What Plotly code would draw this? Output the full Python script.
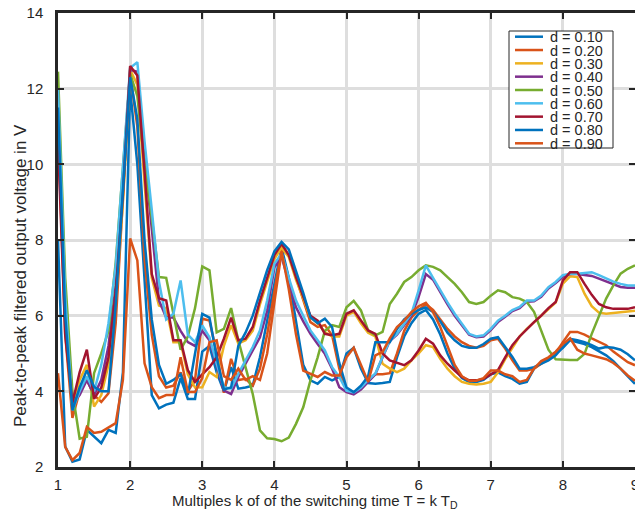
import numpy as np
import plotly.graph_objects as go

# x sampling: k = 1.0, 1.1, ..., 9.0
k_values = np.round(np.linspace(1.0, 9.0, 81), 1)

d_labels = ["d = 0.10", "d = 0.20", "d = 0.30", "d = 0.40", "d = 0.50",
            "d = 0.60", "d = 0.70", "d = 0.80", "d = 0.90"]

d010 = [8.0, 2.54, 2.14, 2.2, 2.98, 2.8, 2.63, 2.98, 2.9, 4.5,
        12.0, 10.0, 7.0, 3.9, 3.55, 3.65, 3.7, 4.35, 3.8, 3.8,
        5.05, 5.2, 4.5, 4.0, 4.64, 4.07, 4.1, 4.15, 4.9, 5.9,
        6.9, 7.8, 7.0, 5.9, 4.7, 4.29, 4.2, 4.38, 4.29, 4.38,
        5.0, 5.15, 4.6, 4.22, 4.2, 4.22, 4.25, 4.9, 5.45, 5.8,
        6.05, 6.15, 5.9, 5.5, 5.0, 4.6, 4.35, 4.25, 4.25, 4.3,
        4.45, 4.5, 4.4, 4.33, 4.2, 4.25, 4.6, 4.75, 4.85, 5.0,
        5.15, 5.35, 5.3, 5.25, 5.17, 5.05, 4.95, 4.8, 4.6, 4.42,
        4.2]
d020 = [11.0, 5.5, 3.3, 4.0, 4.3, 3.9, 3.72, 3.95, 5.8, 9.0,
        12.4, 11.0, 7.5, 5.5, 4.4, 4.1, 4.15, 4.5, 4.0, 4.3,
        5.92, 5.87, 5.0, 3.96, 4.86, 4.3, 4.33, 4.15, 4.6, 5.5,
        6.6, 7.75, 7.6, 7.0, 6.4, 5.83, 5.7, 5.75, 5.48, 4.6,
        4.0, 3.95, 4.1, 4.3, 4.45, 4.45, 4.48, 5.0, 5.6, 5.95,
        6.15, 6.3, 6.15, 5.9, 5.65, 5.45, 5.3, 5.2, 5.15, 5.2,
        5.35, 5.39, 5.13, 4.82, 4.55, 4.55, 4.6, 4.73, 4.86, 5.0,
        5.3, 5.57, 5.57, 5.5, 5.4, 5.3, 5.22, 5.05, 4.9, 4.77,
        4.69]
d030 = [11.8, 6.0, 3.6, 4.3, 4.7, 3.6, 3.9, 4.7, 6.4, 9.0,
        12.5, 12.1, 9.5, 7.0, 6.27, 6.2, 5.3, 5.3, 4.45, 4.1,
        4.11, 4.51, 4.38, 5.2, 5.75, 5.26, 5.35, 5.6, 6.3, 6.9,
        7.5, 7.8, 7.55, 6.95, 6.45, 5.96, 5.8, 5.57, 5.45, 5.45,
        6.0, 6.1, 5.8, 5.55, 5.45, 4.73, 4.6, 4.51, 4.6, 4.82,
        5.0, 5.22, 5.17, 4.86, 4.6, 4.4, 4.25, 4.2, 4.18, 4.2,
        4.25, 4.5, 4.85, 5.15, 5.45, 5.65, 5.82, 6.0, 6.18, 6.35,
        6.85, 7.04, 7.02, 6.58, 6.25, 6.08, 6.05, 6.07, 6.1, 6.12,
        6.13]
d040 = [11.9, 6.2, 3.7, 3.9, 4.3, 3.9, 4.3, 5.2, 6.8, 9.5,
        12.5, 12.45, 10.2, 8.2, 6.4, 5.95, 5.95, 5.6, 5.3, 5.2,
        5.6, 5.35, 4.7, 4.02, 3.93, 4.38, 4.73, 5.08, 5.43, 6.13,
        7.28, 7.55, 6.9, 6.22, 5.85, 5.52, 5.25, 4.99, 4.6, 4.11,
        3.98, 3.92, 4.05, 4.25, 4.45, 4.9, 5.33, 5.5, 5.75, 6.0,
        6.5, 7.1, 6.95, 6.62, 6.3, 6.0, 5.75, 5.5, 5.43, 5.45,
        5.62, 5.83, 5.97, 6.12, 6.2, 6.37, 6.38, 6.5, 6.72, 6.86,
        7.03, 7.1, 7.1, 7.08, 7.05, 6.98, 6.9, 6.82, 6.76, 6.74,
        6.74]
d050 = [12.45, 7.0, 4.0, 2.75, 2.8, 4.48, 5.0, 5.6, 7.4, 10.0,
        12.4, 11.8, 10.0, 8.6, 7.02, 7.0, 6.0, 5.1, 5.45, 6.2,
        7.3, 7.2, 5.56, 5.65, 6.2, 5.35, 4.64, 3.93, 2.97, 2.76,
        2.74, 2.68, 2.78, 3.14, 3.58, 4.29, 4.9, 5.6, 5.75, 5.7,
        6.22, 6.39, 6.14, 5.61, 5.48, 5.57, 6.31, 6.58, 6.89, 7.02,
        7.2, 7.33, 7.29, 7.2, 7.02, 6.84, 6.62, 6.36, 6.31, 6.36,
        6.53, 6.67, 6.62, 6.49, 6.45, 6.36, 6.1, 5.6, 5.1, 4.85,
        4.83, 4.83, 4.83, 4.99, 5.52, 6.0, 6.45, 6.8, 7.11, 7.24,
        7.33]
d060 = [12.0, 6.5, 3.5, 4.0, 4.4, 4.0, 4.7, 5.8, 7.3, 9.8,
        12.55, 12.7, 10.6, 8.8, 6.9, 5.9, 6.05, 6.93, 5.5, 5.3,
        5.74, 5.43, 4.73, 4.11, 4.07, 4.46, 4.82, 5.17, 5.61, 6.4,
        7.37, 7.64, 7.0, 6.4, 6.0, 5.61, 5.35, 5.08, 4.64, 4.38,
        4.02, 3.97, 4.1, 4.3, 4.47, 4.91, 5.35, 5.52, 5.78, 6.05,
        6.67, 7.33, 7.0, 6.67, 6.35, 6.05, 5.8, 5.52, 5.45, 5.48,
        5.65, 5.87, 6.0, 6.15, 6.23, 6.4, 6.4, 6.53, 6.75, 6.89,
        7.07, 7.11, 7.11, 7.12, 7.15, 7.07, 6.98, 6.9, 6.84, 6.8,
        6.8]
d070 = [10.6, 5.5, 3.7, 4.5, 5.1, 3.8, 4.1, 4.9, 6.6, 9.2,
        12.6, 12.35, 9.8, 7.1, 6.46, 6.4, 5.35, 5.35, 4.56, 4.25,
        4.45, 4.64, 4.9, 5.39, 5.95, 5.35, 5.39, 5.7, 6.4, 7.0,
        7.6, 7.9, 7.6, 7.02, 6.5, 6.0, 5.87, 5.52, 5.48, 5.52,
        6.05, 6.14, 5.87, 5.61, 5.52, 5.0, 4.82, 4.75, 4.69, 4.82,
        5.08, 5.39, 5.26, 4.95, 4.73, 4.55, 4.38, 4.29, 4.29, 4.33,
        4.45, 4.56, 4.9, 5.22, 5.45, 5.65, 5.83, 6.0, 6.2, 6.36,
        6.93, 7.15, 7.15, 6.84, 6.55, 6.31, 6.22, 6.18, 6.18, 6.18,
        6.22]
d080 = [11.5, 6.0, 3.5, 4.1, 4.56, 4.12, 4.0, 4.0, 6.3, 9.3,
        12.3, 11.2, 8.0, 5.9, 4.7, 4.2, 4.3, 4.45, 3.9, 5.0,
        6.05, 5.95, 4.9, 4.05, 4.1, 5.2, 5.55, 6.0, 6.6, 7.2,
        7.7, 7.95, 7.75, 7.2, 6.6, 5.96, 5.8, 5.92, 5.7, 4.75,
        4.1, 3.98, 4.15, 4.4, 5.3, 5.3, 5.3, 5.65, 5.9, 6.05,
        6.15, 6.22, 6.1, 5.85, 5.55, 5.35, 5.2, 5.15, 5.15, 5.25,
        5.39, 5.43, 5.17, 4.91, 4.6, 4.6, 4.64, 4.73, 4.82, 4.95,
        5.17, 5.39, 5.35, 5.3, 5.22, 5.13, 5.17, 5.15, 5.1, 4.98,
        4.82]
d090 = [4.48, 2.53, 2.18, 2.37, 3.06, 2.9, 2.93, 3.05, 3.16, 4.3,
        8.04, 7.46, 4.74, 4.11, 3.82, 3.9, 3.9, 4.9, 3.98, 3.98,
        4.35, 5.3, 5.35, 4.4, 4.3, 4.6, 4.3, 4.4, 4.3, 5.0,
        6.3, 7.7, 6.7, 5.5, 4.55, 4.47, 4.38, 4.51, 4.42, 4.42,
        4.9, 5.15, 4.7, 4.25, 4.95, 5.04, 5.4, 5.7, 5.87, 6.09,
        6.25, 6.34, 6.1, 5.7, 5.2, 4.7, 4.4, 4.28, 4.28, 4.35,
        4.55, 4.55, 4.45, 4.4, 4.25, 4.3, 4.6, 4.8, 4.9, 5.05,
        5.25, 5.4, 5.1, 5.0, 4.95, 4.9, 4.85, 4.75, 4.6, 4.42,
        4.28]

series = [d010, d020, d030, d040, d050, d060, d070, d080, d090]
colors = ["#0072BD", "#D95319", "#EDB120", "#7E2F8E", "#77AC30",
          "#4DBEEE", "#A2142F", "#0072BD", "#D95319"]

x_ticks = [1, 2, 3, 4, 5, 6, 7, 8, 9]
y_ticks = [2, 4, 6, 8, 10, 12, 14]

AX = "#262626"
FONT = "Liberation Sans, Arial, Helvetica, sans-serif"

fig = go.Figure()
for name, vals, col in zip(d_labels, series, colors):
    fig.add_trace(go.Scatter(x=k_values, y=vals, mode="lines", name=name,
                             line=dict(color=col, width=2.5),
                             showlegend=False))

# Figure fills the whole window (page body margin removed in post_script).
W, H = 635, 524
L, R, T, B = 58, 0, 13, 57
pw, ph = W - L - R, H - T - B

def px2x(px):
    return (px - L) / pw

def py2y(py):
    return (H - B - py) / ph

fig.update_layout(
    width=W, height=H,
    margin=dict(l=L, r=R, t=T, b=B, pad=0, autoexpand=False),
    paper_bgcolor="white", plot_bgcolor="white",
    font=dict(family=FONT, size=15, color=AX),
    showlegend=False,
)
fig.update_xaxes(range=[1, 9], tickvals=x_ticks, ticktext=[str(v) for v in x_ticks],
                 showgrid=True, gridcolor="#dedede", gridwidth=3,
                 zeroline=False, showline=True, linecolor=AX, linewidth=2.5,
                 mirror="ticks", ticks="inside", ticklen=6, tickwidth=2,
                 tickcolor=AX, ticklabelstandoff=2, automargin=False,
                 ticklabeloverflow="allow",
                 tickfont=dict(family=FONT, size=15, color=AX))
fig.update_yaxes(range=[2, 14], tickvals=y_ticks, ticktext=[str(v) for v in y_ticks],
                 showgrid=True, gridcolor="#dedede", gridwidth=3,
                 zeroline=False, showline=True, linecolor=AX, linewidth=2.5,
                 mirror="ticks", ticks="inside", ticklen=6, tickwidth=2,
                 tickcolor=AX, ticklabelstandoff=9, automargin=False,
                 ticklabeloverflow="allow",
                 tickfont=dict(family=FONT, size=15, color=AX))

# axis titles
fig.add_annotation(text="Multiples k of of the switching time T = k T<sub>D</sub>",
                   xref="paper", yref="paper", x=px2x(315), y=py2y(490),
                   xanchor="center", yanchor="top", showarrow=False,
                   font=dict(family=FONT, size=15, color=AX))
fig.add_annotation(text="Peak-to-peak filtered output voltage in V",
                   xref="paper", yref="paper", x=px2x(20), y=py2y(276),
                   xanchor="center", yanchor="middle", textangle=-90,
                   showarrow=False, font=dict(family=FONT, size=17, color=AX))

# legend box (compact, MATLAB style)
bx0, bx1, by0, by1 = 509, 613, 31, 148
fig.add_shape(type="rect", xref="paper", yref="paper",
              x0=px2x(bx0), x1=px2x(bx1), y0=py2y(by1), y1=py2y(by0),
              line=dict(color=AX, width=1), fillcolor="white", layer="above")
row_h = (143.3 - 36.7) / 8
for i, (name, col) in enumerate(zip(d_labels, colors)):
    cy = 36.7 + i * row_h
    fig.add_shape(type="line", xref="paper", yref="paper",
                  x0=px2x(515), x1=px2x(543), y0=py2y(cy), y1=py2y(cy),
                  line=dict(color=col, width=2.5), layer="above")
    fig.add_annotation(text=name, xref="paper", yref="paper",
                       x=px2x(548), y=py2y(cy), xanchor="left", yanchor="middle",
                       height=13, valign="middle", showarrow=False,
                       font=dict(family=FONT, size=14.5, color=AX))

fig.write_html("out.html",
               config={"displayModeBar": False},
               post_script="document.body.style.margin='0';"
                           "document.body.style.overflow='hidden';")
